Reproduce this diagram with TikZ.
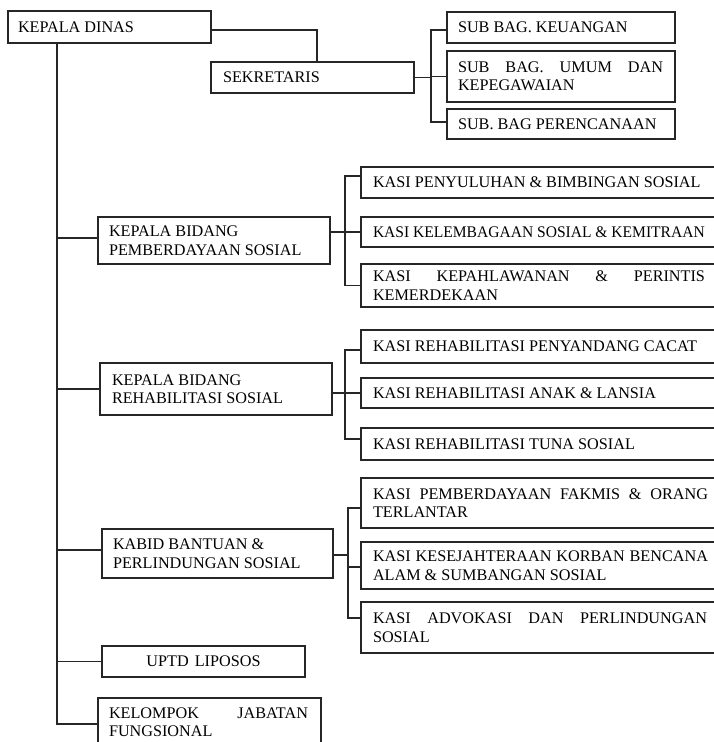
\documentclass[tikz,border=0pt]{standalone}
\usepackage{fontspec}
\usepackage{graphicx}
\setmainfont{Liberation Serif}
\usetikzlibrary{calc}
\tikzset{
  orgbox/.style={draw=black!85, line width=1.1pt, anchor=north west, align=left,
    outer sep=0pt, inner ysep=0pt, font=\fontsize{16.2}{18.5}\selectfont,
    execute at begin node={\spaceskip=0pt\xspaceskip=0pt}},
  kasibox/.style={orgbox, inner xsep=12pt, text width=335pt},
  conn/.style={draw=black!85, line width=1.1pt},
}
\newcommand\jl[2]{{\spaceskip=0pt\xspaceskip=0pt\makebox[#1][s]{#2}}}
\begin{document}
\begin{tikzpicture}[x=1pt,y=-1pt]
\fill[white] (0,0) rectangle (713,742);
\useasboundingbox (0,0) rectangle (713,742);
% top level
\node[orgbox, inner xsep=10pt, text width=183pt, minimum height=32pt] (kd) at (8,11) {KEPALA DINAS};
\node[orgbox, inner xsep=12pt, text width=179pt, minimum height=31pt] (sek) at (211,62) {SEKRETARIS};
\node[orgbox, inner xsep=11pt, text width=206pt, minimum height=31pt] (keu) at (447,12) {SUB BAG. KEUANGAN};
\node[orgbox, inner xsep=11pt, text width=206pt, minimum height=51pt] (umum) at (447,51) {\jl{205pt}{SUB BAG. UMUM DAN}\\KEPEGAWAIAN};
\node[orgbox, inner xsep=11pt, text width=206pt, minimum height=30pt] (per) at (447,109) {SUB. BAG PERENCANAAN};
% bidang 1
\node[orgbox, inner xsep=11pt, text width=210pt, minimum height=47pt] (kb1) at (98,217) {KEPALA BIDANG\\PEMBERDAYAAN SOSIAL};
\node[kasibox, minimum height=31pt] (k11) at (361,167) {KASI PENYULUHAN \& BIMBINGAN SOSIAL};
\node[kasibox, minimum height=30pt] (k12) at (361,217) {\scalebox{0.96}[1]{KASI KELEMBAGAAN SOSIAL \& KEMITRAAN}};
\node[kasibox, minimum height=43pt] (k13) at (361,264) {\jl{332pt}{KASI KEPAHLAWANAN \& PERINTIS}\\KEMERDEKAAN};
% bidang 2
\node[orgbox, inner xsep=12pt, text width=208pt, minimum height=52pt] (kb2) at (100,363) {KEPALA BIDANG\\REHABILITASI SOSIAL};
\node[kasibox, minimum height=33pt] (k21) at (361,330) {KASI REHABILITASI PENYANDANG CACAT};
\node[kasibox, minimum height=30pt] (k22) at (361,378) {KASI REHABILITASI ANAK \& LANSIA};
\node[kasibox, minimum height=32pt] (k23) at (361,428) {KASI REHABILITASI TUNA SOSIAL};
% bidang 3
\node[orgbox, inner xsep=11pt, text width=209pt, minimum height=49pt] (kb3) at (102,529) {KABID BANTUAN \&\\PERLINDUNGAN SOSIAL};
\node[kasibox, minimum height=50pt] (k31) at (361,478) {\jl{335pt}{KASI PEMBERDAYAAN FAKMIS \& ORANG}\\TERLANTAR};
\node[kasibox, minimum height=47pt] (k32) at (361,542) {\jl{335pt}{KASI KESEJAHTERAAN KORBAN BENCANA}\\ALAM \& SUMBANGAN SOSIAL};
\node[kasibox, minimum height=51pt] (k33) at (361,602) {\jl{334pt}{KASI ADVOKASI DAN PERLINDUNGAN}\\SOSIAL};
% others
\node[orgbox, inner xsep=11pt, text width=181pt, minimum height=31pt, align=center] (uptd) at (102,646) {UPTD LIPOSOS};
\node[orgbox, inner xsep=11pt, text width=201pt, minimum height=48pt] (kel) at (98,698) {\jl{199pt}{KELOMPOK JABATAN}\\FUNGSIONAL};
% connectors: top
\draw[conn] ($(kd.east)+(0,3)$) -| ($(sek.north)+(4.5,0)$);
\coordinate (b0) at ($(sek.east)+(17,0)$);
\draw[conn] (sek.east) -- (b0);
\draw[conn] ($(keu.west)+(0,2.5)$) -| (b0);
\draw[conn] (umum.west) -| (b0);
\draw[conn] ($(per.west)+(0,-2)$) -| (b0);
% trunk
\coordinate (t) at ($(kd.south west)+(49,0)$);
\draw[conn] (t) |- ($(kel.west)+(0,2)$);
\draw[conn] ($(kb1.west)+(0,-2.5)$) -| (t);
\draw[conn] (kb2.west) -| (t);
\draw[conn] ($(kb3.west)+(0,-3.5)$) -| (t);
\draw[conn] (uptd.west) -| (t);
% bidang 1 bus
\coordinate (b1) at ($(k12.west)+(-16,0)$);
\draw[conn] (kb1.east |- k12.west) -- (k12.west);
\draw[conn] ($(k11.west)+(0,-6.5)$) -| (b1);
\draw[conn] (k13.west) -| (b1);
% bidang 2 bus
\coordinate (b2) at ($(k22.west)+(-16,0)$);
\draw[conn] (kb2.east |- k22.west) -- (k22.west);
\draw[conn] ($(k21.west)+(0,3.5)$) -| (b2);
\draw[conn] ($(k23.west)+(0,-5)$) -| (b2);
% bidang 3 bus
\coordinate (b3) at ($(k32.west)+(-13,0)$);
\draw[conn] ($(kb3.east)+(0,1.5)$) -| (b3);
\draw[conn] ($(k31.west)+(0,5)$) -| (b3);
\draw[conn] ($(k32.west)+(0,1.5)$) -| (b3);
\draw[conn] ($(k33.west)+(0,-9.5)$) -| (b3);
\end{tikzpicture}
\end{document}
